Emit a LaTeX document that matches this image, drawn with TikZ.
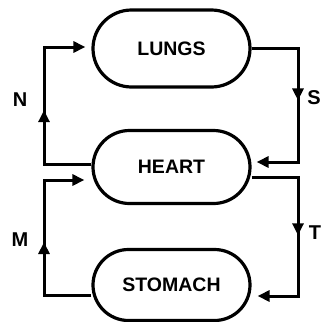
\documentclass[tikz,border=0pt]{standalone}
\usepackage{fontspec}
\setmainfont{Liberation Sans}
\usetikzlibrary{shapes.misc,arrows.meta,decorations.markings}
\begin{document}
\begin{tikzpicture}[x=1pt,y=-1pt,
  organ/.style={draw, line width=3.2pt, rounded rectangle, minimum width=157pt, inner sep=0pt,
    font=\bfseries\fontsize{19.5}{19.5}\selectfont},
  flow/.style={line width=3pt, line join=miter},
  tipend/.style={-{Triangle[length=12pt,width=11pt]}},
  midtip/.style={postaction={decorate}, decoration={markings,
    mark=at position #1 with {\arrow{Triangle[length=12pt,width=11pt]}}}},
  lbl/.style={font=\bfseries\fontsize{20}{20}\selectfont, inner sep=0pt}]
\useasboundingbox (0,0) rectangle (321,322);
\node[organ, minimum height=77pt] (lungs) at (171.5,48.5) {LUNGS};
\node[organ, minimum height=73pt] (heart) at (171.5,167) {HEART};
\node[organ, minimum height=71pt] (stomach) at (171.5,285) {STOMACH};
% N
\coordinate (nb) at (44,164);
\coordinate (nt) at (44,47);
\draw[flow, tipend, shorten >=6pt] ([yshift=3pt]heart.west) -- (nb) -- (nt) -- ([yshift=1.5pt]lungs.west);
\draw[flow, midtip=0.46] (nb) -- (nt);
% S
\coordinate (st) at (298,48);
\coordinate (sb) at (298,162);
\draw[flow, tipend, shorten >=5pt] ([yshift=0.5pt]lungs.east) -- (st) -- (sb) -- ([yshift=5pt]heart.east);
\draw[flow, midtip=0.46] (st) -- (sb);
% T
\coordinate (tt) at (298,177);
\coordinate (tb) at (298,296);
\draw[flow, tipend, shorten >=6pt] ([yshift=-10pt]heart.east) -- (tt) -- (tb) -- ([yshift=-11pt]stomach.east);
\draw[flow, midtip=0.49] (tt) -- (tb);
% M
\coordinate (mb) at (44,295);
\coordinate (mt) at (44,180);
\draw[flow, tipend, shorten >=7pt] ([yshift=-10pt]stomach.west) -- (mb) -- (mt) -- ([yshift=-13pt]heart.west);
\draw[flow, midtip=0.46] (mb) -- (mt);
% labels
\node[lbl] (N) at (20,100) {N};
\node[lbl] (S) at (314,98) {S};
\node[lbl] (M) at (20,240) {M};
\node[lbl] (T) at (315,233) {T};
\end{tikzpicture}
\end{document}
